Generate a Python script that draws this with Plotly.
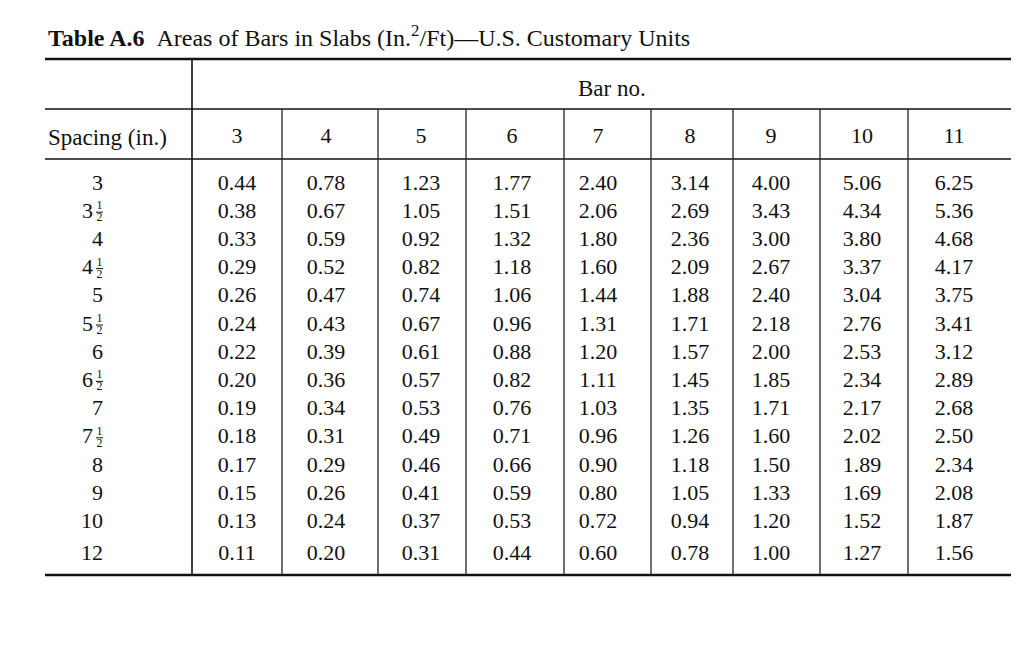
import plotly.graph_objects as go

# ---- table content ----
bar_numbers = ["3", "4", "5", "6", "7", "8", "9", "10", "11"]
spacings = ["3", "3½", "4", "4½", "5", "5½", "6", "6½", "7", "7½", "8", "9", "10", "12"]

bar3 = [0.44, 0.38, 0.33, 0.29, 0.26, 0.24, 0.22, 0.20, 0.19, 0.18, 0.17, 0.15, 0.13, 0.11]
bar4 = [0.78, 0.67, 0.59, 0.52, 0.47, 0.43, 0.39, 0.36, 0.34, 0.31, 0.29, 0.26, 0.24, 0.20]
bar5 = [1.23, 1.05, 0.92, 0.82, 0.74, 0.67, 0.61, 0.57, 0.53, 0.49, 0.46, 0.41, 0.37, 0.31]
bar6 = [1.77, 1.51, 1.32, 1.18, 1.06, 0.96, 0.88, 0.82, 0.76, 0.71, 0.66, 0.59, 0.53, 0.44]
bar7 = [2.40, 2.06, 1.80, 1.60, 1.44, 1.31, 1.20, 1.11, 1.03, 0.96, 0.90, 0.80, 0.72, 0.60]
bar8 = [3.14, 2.69, 2.36, 2.09, 1.88, 1.71, 1.57, 1.45, 1.35, 1.26, 1.18, 1.05, 0.94, 0.78]
bar9 = [4.00, 3.43, 3.00, 2.67, 2.40, 2.18, 2.00, 1.85, 1.71, 1.60, 1.50, 1.33, 1.20, 1.00]
bar10 = [5.06, 4.34, 3.80, 3.37, 3.04, 2.76, 2.53, 2.34, 2.17, 2.02, 1.89, 1.69, 1.52, 1.27]
bar11 = [6.25, 5.36, 4.68, 4.17, 3.75, 3.41, 3.12, 2.89, 2.68, 2.50, 2.34, 2.08, 1.87, 1.56]

columns = [bar3, bar4, bar5, bar6, bar7, bar8, bar9, bar10, bar11]

title_bold = "Table A.6"
title_rest = "Areas of Bars in Slabs (In.<sup>2</sup>/Ft)—U.S. Customary Units"
spacing_header = "Spacing (in.)"
group_header = "Bar no."

# ---- page geometry (pixel-like axes; the page body adds an 8px offset) ----
W, H = 1035, 672
OFF = 8
FONT = "Liberation Serif"
INK = "#111"
TABLE_L, TABLE_R = 45, 1011
COL_EDGES = [192, 282, 378, 466, 564, 651, 733, 820, 908]
COL_CENTERS = [237, 326, 421, 512, 598, 690, 771, 862, 954]
Y_TOP, Y_GROUP, Y_HEAD, Y_BOTTOM = 59, 109, 159, 575
Y_HEADER_TEXT = 137
ROW0, PITCH, LAST_GAP = 184, 28.2, 4
LABEL_RIGHT = 103

row_y = []
for i in range(len(spacings)):
    y = ROW0 + i * PITCH
    if i == len(spacings) - 1:
        y += LAST_GAP
    row_y.append(y)

fig = go.Figure()

# cell values
xs, ys, txt = [], [], []
for cx, col in zip(COL_CENTERS, columns):
    for y, v in zip(row_y, col):
        xs.append(cx)
        ys.append(y)
        txt.append(f"{v:.2f}")
fig.add_trace(go.Scatter(
    x=xs, y=ys, text=txt, mode="text", textposition="middle center",
    textfont=dict(family=FONT, size=22, color=INK), hoverinfo="skip"
))

# column headers
fig.add_trace(go.Scatter(
    x=COL_CENTERS, y=[Y_HEADER_TEXT] * len(bar_numbers), text=bar_numbers,
    mode="text", textposition="middle center",
    textfont=dict(family=FONT, size=22, color=INK), hoverinfo="skip"
))

# spacing labels: whole part, with a stacked 1/2 for the half rows
whole = [s.rstrip("½") for s in spacings]
has_half = [s.endswith("½") for s in spacings]
label_x = [LABEL_RIGHT - 10 if h else LABEL_RIGHT for h in has_half]
fig.add_trace(go.Scatter(
    x=label_x, y=row_y, text=whole, mode="text", textposition="middle left",
    textfont=dict(family=FONT, size=22, color=INK), hoverinfo="skip"
))
half_y = [y for y, h in zip(row_y, has_half) if h]
fig.add_trace(go.Scatter(
    x=[LABEL_RIGHT - 3.5] * len(half_y), y=[y - 6 for y in half_y], text=["1"] * len(half_y),
    mode="text", textposition="middle center",
    textfont=dict(family=FONT, size=12, color=INK), hoverinfo="skip"
))
fig.add_trace(go.Scatter(
    x=[LABEL_RIGHT - 3.5] * len(half_y), y=[y + 6 for y in half_y], text=["2"] * len(half_y),
    mode="text", textposition="middle center",
    textfont=dict(family=FONT, size=12, color=INK), hoverinfo="skip"
))

shapes = []
for y in half_y:
    shapes.append(dict(type="line", x0=LABEL_RIGHT - 7, x1=LABEL_RIGHT, y0=y, y1=y,
                       line=dict(color=INK, width=1)))

# rules
for y, w in [(Y_TOP, 2.5), (Y_GROUP, 1.6), (Y_HEAD, 1.6), (Y_BOTTOM, 2.5)]:
    shapes.append(dict(type="line", x0=TABLE_L, x1=TABLE_R, y0=y, y1=y,
                       line=dict(color=INK, width=w)))
shapes.append(dict(type="line", x0=COL_EDGES[0], x1=COL_EDGES[0], y0=Y_TOP, y1=Y_BOTTOM,
                   line=dict(color=INK, width=1.6)))
for x in COL_EDGES[1:]:
    shapes.append(dict(type="line", x0=x, x1=x, y0=Y_GROUP, y1=Y_BOTTOM,
                       line=dict(color="#222", width=1.3)))

annotations = [
    dict(x=46, y=36, xref="x", yref="y", xanchor="left", yanchor="middle", showarrow=False,
         text=f"<b>{title_bold}</b>\u00a0\u00a0{title_rest}",
         font=dict(family=FONT, size=24, color=INK)),
    dict(x=46, y=Y_HEADER_TEXT, xref="x", yref="y", xanchor="left", yanchor="middle",
         showarrow=False, text=spacing_header, font=dict(family=FONT, size=23, color=INK)),
    dict(x=612, y=88, xref="x", yref="y", xanchor="center",
         yanchor="middle", showarrow=False, text=group_header,
         font=dict(family=FONT, size=23, color=INK)),
]

fig.update_layout(
    width=W, height=H,
    margin=dict(l=0, r=0, t=0, b=0),
    paper_bgcolor="white", plot_bgcolor="white",
    showlegend=False,
    shapes=shapes,
    annotations=annotations,
    xaxis=dict(range=[OFF, W + OFF], visible=False, fixedrange=True),
    yaxis=dict(range=[H + OFF, OFF], visible=False, fixedrange=True),
)

fig.write_html("out.html", config={"displayModeBar": False})
